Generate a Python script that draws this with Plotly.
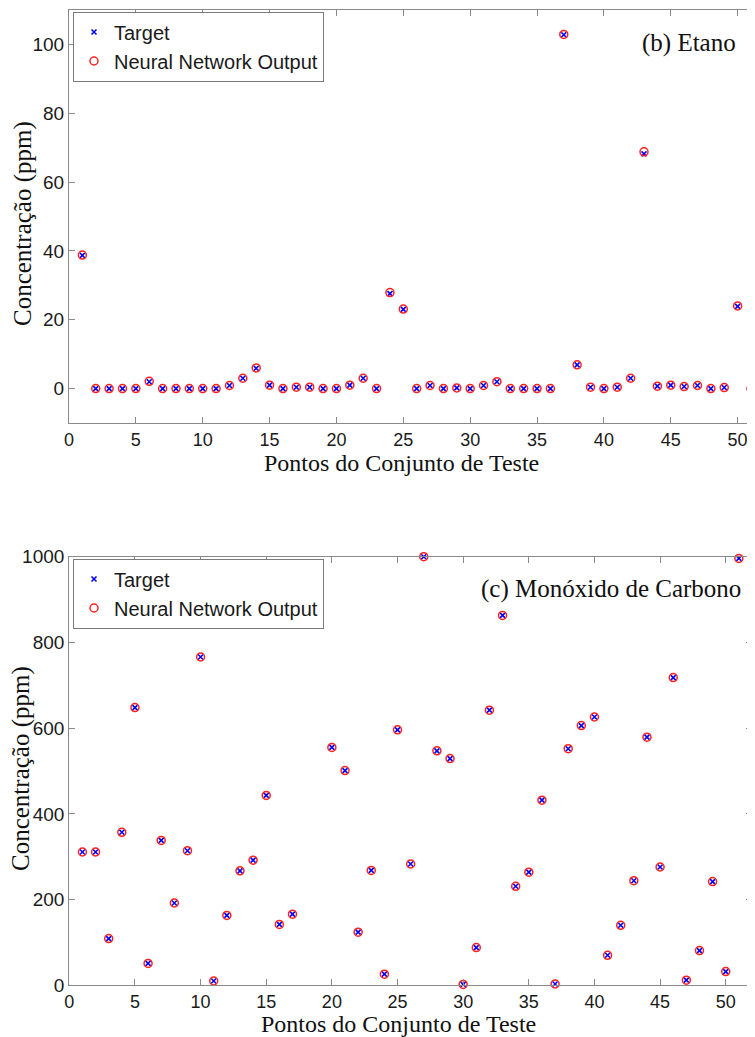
import plotly.graph_objects as go

# ---------------- data ----------------
pontos = list(range(1, 52))

etano_target = [38.7, 0, 0, 0, 0, 2.0, 0, 0, 0, 0,
                0, 0.9, 3.0, 5.9, 1.0, 0, 0.4, 0.4, 0, 0,
                1.0, 3.0, 0, 27.6, 23.0, 0, 0.9, 0, 0.2, 0,
                0.9, 2.0, 0, 0, 0, 0, 102.8, 6.9, 0.4, 0,
                0.4, 3.0, 68.2, 0.7, 1.0, 0.6, 0.9, 0, 0.3, 23.9,
                0]
etano_output = [38.8, 0, 0, 0, 0, 2.1, 0, 0, 0, 0,
                0, 0.9, 3.0, 6.0, 1.0, 0, 0.4, 0.4, 0, 0,
                1.0, 3.0, 0, 27.9, 23.1, 0, 0.9, 0, 0.2, 0,
                0.9, 2.0, 0, 0, 0, 0, 102.9, 6.9, 0.4, 0,
                0.4, 3.0, 68.8, 0.7, 1.0, 0.6, 0.9, 0, 0.3, 24.0,
                0]

co_target = [311, 311, 109, 357, 648, 51, 338, 192, 314, 766,
             10, 163, 267, 292, 443, 142, 166, 963, 963, 555,
             501, 124, 268, 26, 596, 283, 1000, 547, 529, 2,
             88, 642, 863, 231, 264, 432, 3, 552, 606, 626,
             70, 140, 244, 579, 276, 718, 12, 81, 242, 32,
             996]
co_output = [311, 311, 109, 357, 648, 51, 338, 192, 314, 766,
             10, 163, 267, 292, 443, 142, 166, 963, 963, 555,
             501, 124, 268, 26, 596, 283, 1000, 547, 529, 2,
             88, 642, 863, 231, 264, 432, 3, 552, 606, 626,
             70, 140, 244, 579, 276, 718, 12, 81, 242, 32,
             996]

x_ticks = [0, 5, 10, 15, 20, 25, 30, 35, 40, 45, 50]
etano_yticks = [0, 20, 40, 60, 80, 100]
co_yticks = [0, 200, 400, 600, 800, 1000]

label_target = "Target"
label_output = "Neural Network Output"
title_b = "(b) Etano"
title_c = "(c) Monóxido de Carbono"
xlabel = "Pontos do Conjunto de Teste"
ylabel = "Concentração (ppm)"

# ---------------- figure ----------------
OFF = 8                      # default page body margin
W, H = 755 - OFF, 1037 - OFF
SANS = "Liberation Sans, Arial, sans-serif"
SERIF = "Liberation Serif, Times New Roman, serif"
AXC = "#8a8a8a"

fig = go.Figure()

def add_pair(x, yt, yo, xa, ya, leg, show):
    fig.add_trace(go.Scatter(
        x=x, y=yt, mode="markers", name=label_target,
        xaxis=xa, yaxis=ya, legend=leg, showlegend=show, cliponaxis=False,
        marker=dict(symbol="x-thin-open", size=5, color="#0000ff",
                    line=dict(width=1.6, color="#0000ff"))))
    fig.add_trace(go.Scatter(
        x=x, y=yo, mode="markers", name=label_output,
        xaxis=xa, yaxis=ya, legend=leg, showlegend=show, cliponaxis=False,
        marker=dict(symbol="circle-open", size=8, color="#ff2020",
                    line=dict(width=1.5, color="#ff2020"))))

add_pair(pontos, etano_target, etano_output, "x", "y", "legend", True)
add_pair(pontos, co_target, co_output, "x2", "y2", "legend2", True)

def px_x(p):
    return (p - OFF) / W

def px_y(p):
    return 1 - (p - OFF) / H

axis_base = dict(showgrid=False, zeroline=False, showline=True, linecolor=AXC,
                 linewidth=1.2, ticks="inside", ticklen=6, tickcolor=AXC,
                 tickwidth=1, automargin=False)
tick19 = dict(family=SANS, size=19, color="#1a1a1a")
tick18 = dict(family=SANS, size=18, color="#1a1a1a")

top_dom_y = [px_y(423), px_y(10)]
bot_dom_y = [px_y(985.3), px_y(556.7)]

legend_common = dict(xanchor="left", yanchor="top",
                     bgcolor="white", bordercolor="#7a7a7a", borderwidth=1,
                     font=dict(family=SANS, size=20, color="#1a1a1a"),
                     tracegroupgap=0, itemwidth=30)

fig.update_layout(
    template="none",
    width=W, height=H,
    margin=dict(l=0, r=0, t=0, b=0, autoexpand=False),
    paper_bgcolor="white", plot_bgcolor="white",
    xaxis=dict(domain=[px_x(69), 1.0], range=[0, 51.3], tickvals=x_ticks,
               anchor="y", mirror="ticks", tickfont=tick18, **axis_base),
    yaxis=dict(domain=top_dom_y, range=[-10, 110], tickvals=etano_yticks,
               anchor="x", mirror=False, tickfont=tick19, **axis_base),
    xaxis2=dict(domain=[px_x(69.3), px_x(752)], range=[0, 52], tickvals=x_ticks,
                anchor="y2", mirror="ticks", tickfont=tick18, **axis_base),
    yaxis2=dict(domain=bot_dom_y, range=[0, 1000], tickvals=co_yticks,
                anchor="x2", mirror="ticks", tickfont=tick19, **axis_base),
    legend=dict(x=px_x(73), y=px_y(11.5), **legend_common),
    legend2=dict(x=px_x(73), y=px_y(558.5), **legend_common),
    showlegend=True,
)

serif_font = dict(family=SERIF, size=25, color="#111111")
serif_small = dict(family=SERIF, size=24, color="#111111")
annots = [
    dict(text=title_b, x=px_x(738), y=px_y(43), xanchor="right", yanchor="middle", font=serif_font),
    dict(text=title_c, x=px_x(743), y=px_y(589), xanchor="right", yanchor="middle", font=serif_font),
    dict(text=xlabel, x=px_x(401), y=px_y(462.5), xanchor="center", yanchor="middle", font=serif_small),
    dict(text=xlabel, x=px_x(398), y=px_y(1023.5), xanchor="center", yanchor="middle", font=serif_small),
    dict(text=ylabel, x=px_x(23), y=px_y(224), xanchor="center", yanchor="middle", textangle=-90, font=serif_font),
    dict(text=ylabel, x=px_x(21), y=px_y(769), xanchor="center", yanchor="middle", textangle=-90, font=serif_font),
]
for a in annots:
    fig.add_annotation(xref="paper", yref="paper", showarrow=False, **a)

fig.write_html("out.html")
